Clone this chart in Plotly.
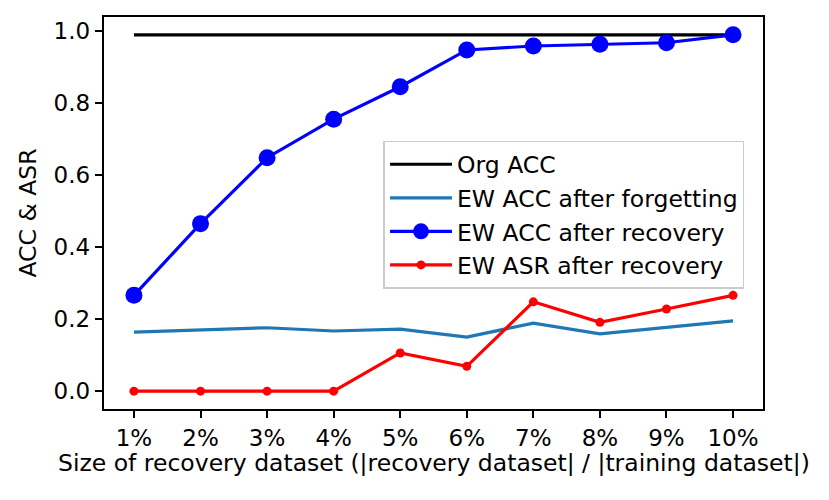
import plotly.graph_objects as go

## data
sizes = ['1%', '2%', '3%', '4%', '5%', '6%', '7%', '8%', '9%', '10%']
org_acc = [0.989] * 10
acc_forget = [0.164, 0.169, 0.176, 0.167, 0.172, 0.150, 0.189, 0.159, 0.176, 0.195]
acc_recover = [0.266, 0.465, 0.648, 0.755, 0.845, 0.947, 0.958, 0.963, 0.967, 0.989]
asr_recover = [0.0, 0.0, 0.0, 0.0, 0.106, 0.069, 0.248, 0.191, 0.228, 0.266]
y_ticks = [0.0, 0.2, 0.4, 0.6, 0.8, 1.0]

FONT = 'DejaVu Sans'
FS = 23.5
TICK_FS = 23

## the page body keeps an 8px margin, so the figure is 16px smaller than the window
fig = go.Figure()
fig.add_trace(go.Scatter(x=sizes, y=org_acc, mode='lines', name='Org ACC',
                         line=dict(color='black', width=3.2), legendgroup='a'))
fig.add_trace(go.Scatter(x=sizes, y=acc_forget, mode='lines', name='EW ACC after forgetting',
                         line=dict(color='#1f77b4', width=3.2), legendgroup='b'))
fig.add_trace(go.Scatter(x=sizes, y=acc_recover, mode='lines+markers', name='EW ACC after recovery',
                         line=dict(color='#0000ff', width=3.2),
                         marker=dict(color='#0000ff', size=17), legendgroup='c'))
fig.add_trace(go.Scatter(x=sizes, y=asr_recover, mode='lines+markers', name='EW ASR after recovery',
                         line=dict(color='#ff0000', width=3.2),
                         marker=dict(color='#ff0000', size=9), legendgroup='d'))

axis_common = dict(showline=True, linecolor='black', linewidth=1.6, mirror=True,
                   ticks='outside', ticklen=7.5, tickwidth=1.6, tickcolor='black',
                   showgrid=False, zeroline=False,
                   tickfont=dict(family=FONT, size=TICK_FS, color='black'))

fig.update_layout(
    width=813, height=484,
    margin=dict(l=95.5, r=57.7, t=8.7, b=82.5),
    plot_bgcolor='white', paper_bgcolor='white',
    font=dict(family=FONT, size=FS, color='black'),
    xaxis=dict(type='category', range=[-0.45, 9.45], **axis_common),
    yaxis=dict(range=[-0.0495, 1.0385], tickvals=y_ticks, tickformat='.1f', **axis_common),
    legend=dict(x=0.424, y=0.684, xanchor='left', yanchor='top',
                bgcolor='rgba(255,255,255,0.8)', bordercolor='#cccccc', borderwidth=1.6,
                font=dict(family=FONT, size=FS, color='black'),
                tracegroupgap=0, traceorder='grouped', itemwidth=62),
    annotations=[
        dict(text='Size of recovery dataset (|recovery dataset| / |training dataset|)',
             xref='paper', yref='paper', x=0.5, y=-0.138, xanchor='center', yanchor='middle',
             showarrow=False, font=dict(family=FONT, size=FS)),
        dict(text='ACC & ASR', xref='paper', yref='paper', x=-0.116, y=0.5,
             xanchor='center', yanchor='middle', textangle=-90,
             showarrow=False, font=dict(family=FONT, size=FS)),
    ],
)

fig.write_html('out.html')
